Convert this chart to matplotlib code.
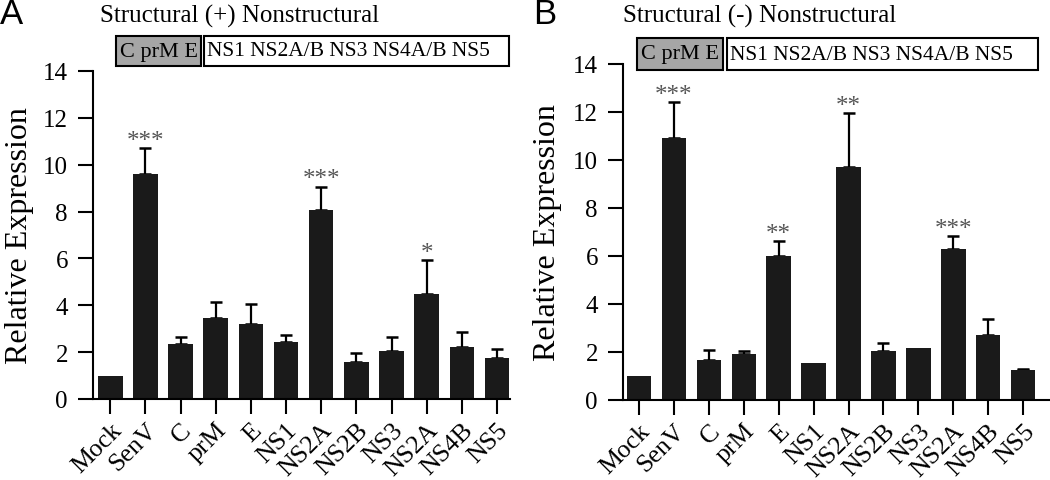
import numpy as np
import matplotlib
matplotlib.use("Agg")
import matplotlib.pyplot as plt
from matplotlib.patches import Rectangle

# data
labels = ["Mock", "SenV", "C", "prM", "E", "NS1", "NS2A", "NS2B", "NS3", "NS2A", "NS4B", "NS5"]

plusValues = [1.0, 9.6, 2.33, 3.45, 3.2, 2.42, 8.05, 1.58, 2.03, 4.47, 2.2, 1.73]
plusErrTop = [0.0, 10.72, 2.63, 4.15, 4.05, 2.73, 9.07, 1.96, 2.63, 5.92, 2.88, 2.15]
plusStars = {1: "***", 6: "***", 9: "*"}

minusValues = [1.0, 10.92, 1.67, 1.93, 5.98, 1.53, 9.7, 2.05, 2.17, 6.28, 2.7, 1.25]
minusErrTop = [0.0, 12.4, 2.08, 2.04, 6.63, 0.0, 11.95, 2.38, 0.0, 6.82, 3.37, 1.28]
minusStars = {1: "***", 4: "**", 6: "**", 9: "***"}

W, H = 1050, 481
serif = "Liberation Serif"

fig = plt.figure(figsize=(W / 100, H / 100), dpi=100)


def pixAxes(x0, x1, ytop, ybot):
	return fig.add_axes([x0 / W, 1 - ybot / H, (x1 - x0) / W, (ybot - ytop) / H])


def drawPanel(ax, values, errTop, stars, xlim):
	x = np.arange(len(values))
	ax.bar(x, values, width=0.7, color="#1a1a1a", zorder=2)
	# upper error bars only
	for i in range(len(values)):
		if errTop[i] > values[i]:
			ax.errorbar(x[i], values[i], yerr=[[0], [errTop[i] - values[i]]], fmt="none",
				ecolor="black", elinewidth=1.6, capsize=4, capthick=1.8, zorder=1)
	for i, s in stars.items():
		ax.text(x[i], errTop[i] + 0.05, s, ha="center", va="baseline", fontsize=18,
			family=serif, color="#555555")
	ax.set_xlim(*xlim)
	ax.set_ylim(0, 14)
	ax.set_yticks(range(0, 15, 2))
	ax.set_xticks(x)
	ax.set_xticklabels(labels, rotation=45, ha="right", va="top", rotation_mode="anchor",
		family=serif, fontsize=18.5)
	for t in ax.get_yticklabels():
		t.set_family(serif)
		t.set_fontsize(18)
	ax.tick_params(axis="both", direction="out", length=11, width=1.5, pad=7)
	ax.tick_params(axis="x", pad=3)
	ax.spines["top"].set_visible(False)
	ax.spines["right"].set_visible(False)
	ax.spines["left"].set_linewidth(1.5)
	ax.spines["bottom"].set_linewidth(1.5)


axA = pixAxes(93, 510, 72, 400)
drawPanel(axA, plusValues, plusErrTop, plusStars, (-0.49, 11.37))
fig.text(20 / W, 1 - 236 / H, "Relative Expression", rotation=90, ha="center", va="center",
	family=serif, fontsize=23)

axB = pixAxes(623, 1050, 65, 401)
drawPanel(axB, minusValues, minusErrTop, minusStars, (-0.46, 11.77))
fig.text(547 / W, 1 - 233 / H, "Relative Expression", rotation=90, ha="center", va="center",
	family=serif, fontsize=23)


def genomeBoxes(gx0, gx1, wx0, wx1, y0, y1):
	fig.patches.append(Rectangle((gx0 / W, 1 - y1 / H), (gx1 - gx0) / W, (y1 - y0) / H,
		transform=fig.transFigure, facecolor="#a6a6a6", edgecolor="black", linewidth=1.5))
	fig.patches.append(Rectangle((wx0 / W, 1 - y1 / H), (wx1 - wx0) / W, (y1 - y0) / H,
		transform=fig.transFigure, facecolor="white", edgecolor="black", linewidth=1.5))
	yc = 1 - (y0 + y1) / 2 / H
	fig.text((gx0 + gx1) / 2 / W, yc, "C prM E", ha="center", va="center", family=serif, fontsize=16)
	fig.text((wx0 + 3) / W, yc, "NS1 NS2A/B NS3 NS4A/B NS5", ha="left", va="center",
		family=serif, fontsize=15.5)


fig.text(100 / W, 1 - 16 / H, "Structural (+) Nonstructural", ha="left", va="center",
	family=serif, fontsize=18)
genomeBoxes(116, 201, 204, 509, 37, 67)

fig.text(623 / W, 1 - 16 / H, "Structural (-) Nonstructural", ha="left", va="center",
	family=serif, fontsize=18)
genomeBoxes(637, 723, 727, 1038, 39, 71)

fig.text(0 / W, 1 - 15 / H, "A", ha="left", va="center", family="Liberation Sans", fontsize=25)
fig.text(533 / W, 1 - 15 / H, "B", ha="left", va="center", family="Liberation Sans", fontsize=25)

fig.savefig("out.png", dpi=100)
